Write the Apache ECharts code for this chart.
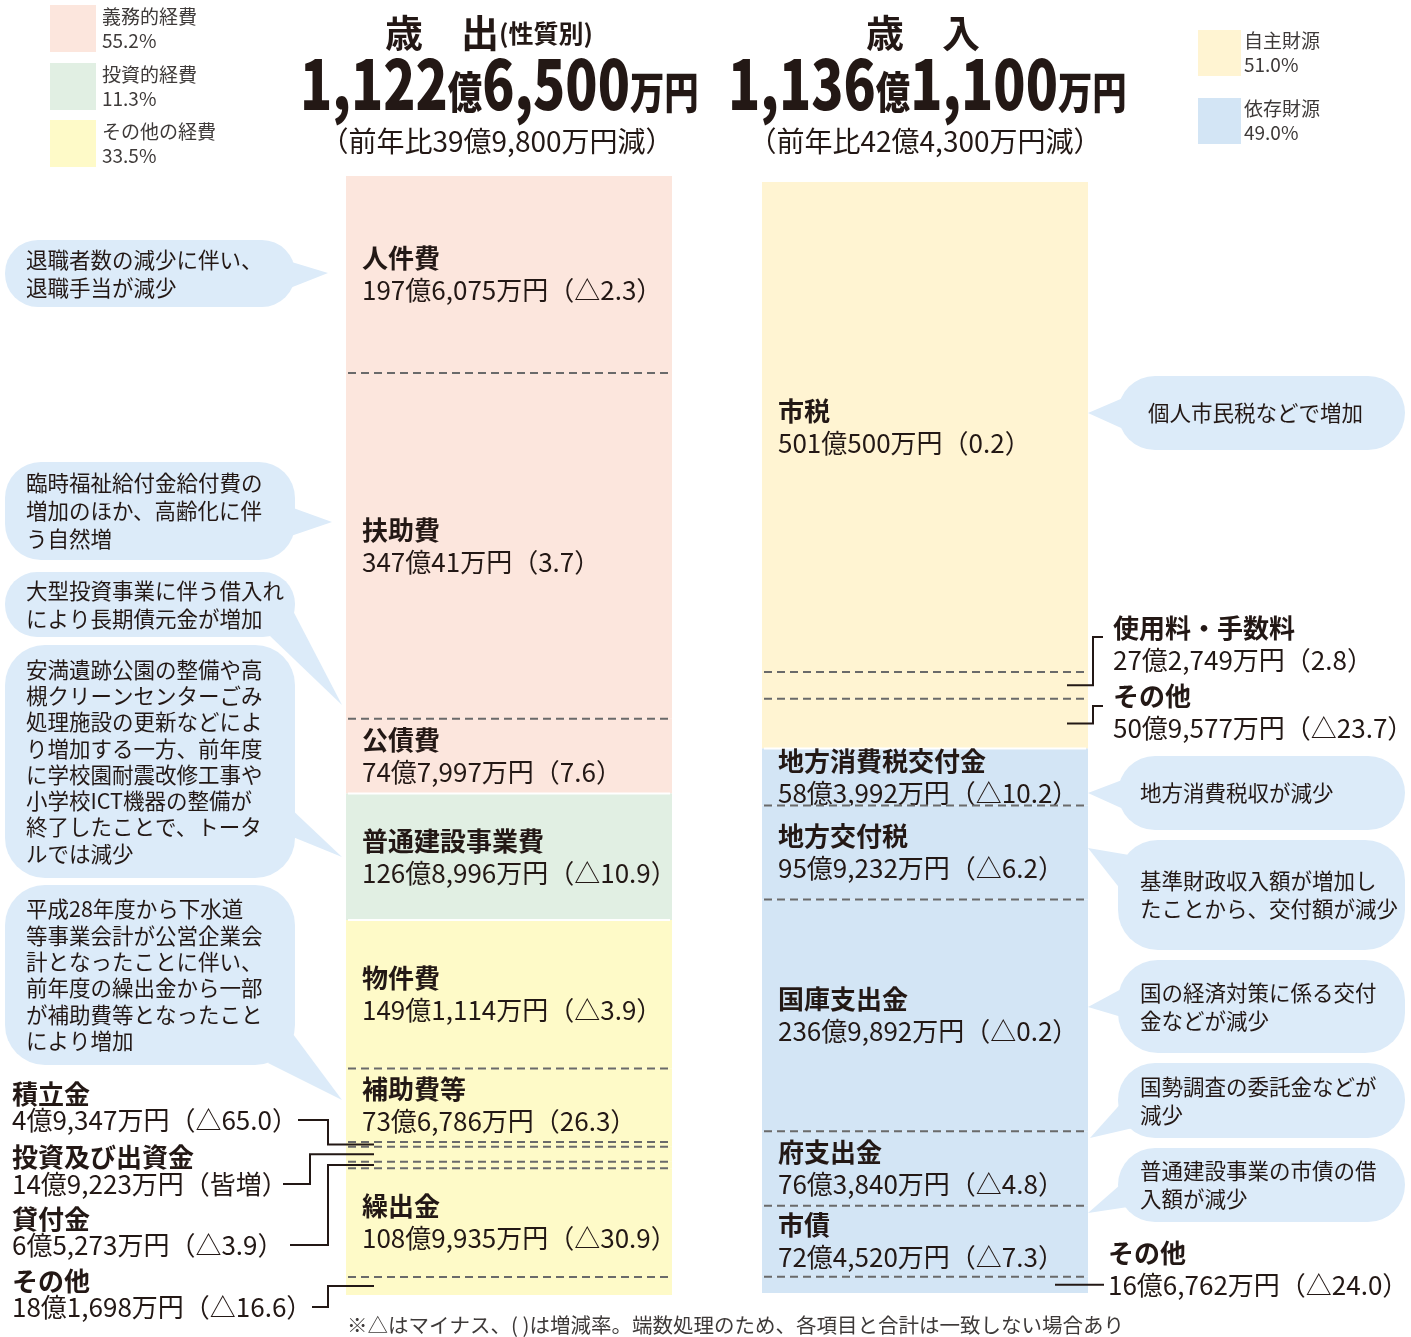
<!DOCTYPE html>
<html lang="ja">
<head>
<meta charset="utf-8">
<title>歳出・歳入</title>
<script src="https://cdn.jsdelivr.net/npm/echarts@6/dist/echarts.min.js"></script>
<style>
  html, body { margin: 0; padding: 0; background: #fff; }
  #main { width: 1411px; height: 1337px; }
</style>
</head>
<body>
<div id="main"></div>
<script>
// 歳出（性質別）単位：億円
const expNames = ['人件費', '扶助費', '公債費', '普通建設事業費', '物件費', '補助費等', '積立金', '投資及び出資金', '貸付金', '繰出金', 'その他'];
const expValues = [197.6075, 347.0041, 74.7997, 126.8996, 149.1114, 73.6786, 4.9347, 14.9223, 6.5273, 108.9935, 18.1698];
const expAmounts = ['197億6,075万円', '347億41万円', '74億7,997万円', '126億8,996万円', '149億1,114万円', '73億6,786万円', '4億9,347万円', '14億9,223万円', '6億5,273万円', '108億9,935万円', '18億1,698万円'];
const expRates = ['△2.3', '3.7', '7.6', '△10.9', '△3.9', '26.3', '△65.0', '皆増', '△3.9', '△30.9', '△16.6'];
const expGroups = [0, 0, 0, 1, 2, 2, 2, 2, 2, 2, 2];
const expGroupNames = ['義務的経費', '投資的経費', 'その他の経費'];
const expGroupShares = ['55.2%', '11.3%', '33.5%'];

// 歳入 単位：億円
const revNames = ['市税', '使用料・手数料', 'その他', '地方消費税交付金', '地方交付税', '国庫支出金', '府支出金', '市債', 'その他'];
const revValues = [501.05, 27.2749, 50.9577, 58.3992, 95.9232, 236.9892, 76.384, 72.452, 16.6762];
const revAmounts = ['501億500万円', '27億2,749万円', '50億9,577万円', '58億3,992万円', '95億9,232万円', '236億9,892万円', '76億3,840万円', '72億4,520万円', '16億6,762万円'];
const revRates = ['0.2', '2.8', '△23.7', '△10.2', '△6.2', '△0.2', '△4.8', '△7.3', '△24.0'];
const revGroups = [0, 0, 0, 1, 1, 1, 1, 1, 1];
const revGroupNames = ['自主財源', '依存財源'];
const revGroupShares = ['51.0%', '49.0%'];

const expTitle = { total: ['1,122', '億', '6,500', '万円'], diff: '（前年比39億9,800万円減）' };
const revTitle = { total: ['1,136', '億', '1,100', '万円'], diff: '（前年比42億4,300万円減）' };

const notes = [
  '退職者数の減少に伴い、\n退職手当が減少',
  '臨時福祉給付金給付費の\n増加のほか、高齢化に伴\nう自然増',
  '大型投資事業に伴う借入れ\nにより長期債元金が増加',
  '安満遺跡公園の整備や高\n槻クリーンセンターごみ\n処理施設の更新などによ\nり増加する一方、前年度\nに学校園耐震改修工事や\n小学校ICT機器の整備が\n終了したことで、トータ\nルでは減少',
  '平成28年度から下水道\n等事業会計が公営企業会\n計となったことに伴い、\n前年度の繰出金から一部\nが補助費等となったこと\nにより増加',
  '個人市民税などで増加',
  '地方消費税収が減少',
  '基準財政収入額が増加し\nたことから、交付額が減少',
  '国の経済対策に係る交付\n金などが減少',
  '国勢調査の委託金などが\n減少',
  '普通建設事業の市債の借\n入額が減少'
];
const footnote = '※△はマイナス、( )は増減率。端数処理のため、各項目と合計は一致しない場合あり';

const FONT = '"Noto Sans CJK JP", "Noto Sans", sans-serif';
const INK = '#231815';
const expColors = ['#fce6dd', '#e1efe3', '#fefac8'];
const revColors = ['#fff4d2', '#d3e5f5'];
const bubbleColor = '#dcebf9';

// 棒の中に名前を書く項目
const expInside = [1, 1, 1, 1, 1, 1, 0, 0, 0, 1, 0];
const revInside = [1, 0, 0, 1, 1, 1, 1, 1, 0];

function cumulate(values) {
  let acc = 0;
  return values.map(v => { const s = acc; acc += v; return [0.5, s, acc]; });
}
function sum(a) { return a.reduce((p, c) => p + c, 0); }

function segmentRenderer(groups, colors, inside, names, amounts, rates) {
  return function (params, api) {
    const i = params.dataIndex;
    const a = api.coord([0, api.value(1)]);
    const b = api.coord([1, api.value(2)]);
    const kids = [{
      type: 'rect',
      shape: { x: a[0], y: a[1], width: b[0] - a[0], height: b[1] - a[1] },
      style: { fill: colors[groups[i]] }
    }];
    if (i > 0) {
      const same = groups[i] === groups[i - 1];
      kids.push({
        type: 'line',
        shape: { x1: a[0] + 2, y1: a[1], x2: b[0] - 2, y2: a[1] },
        style: same ? { stroke: '#6a6a6a', lineWidth: 2, lineDash: [8, 5] } : { stroke: '#fff', lineWidth: 2 }
      });
    }
    if (inside[i]) {
      kids.push({
        type: 'text',
        x: a[0] + 16,
        y: (a[1] + b[1]) / 2,
        style: {
          text: '{n|' + names[i] + '}\n{v|' + amounts[i] + '（' + rates[i] + '）}',
          verticalAlign: 'middle',
          align: 'left',
          rich: {
            n: { fontFamily: FONT, fontSize: 26, fontWeight: 'bold', fill: INK, lineHeight: 32 },
            v: { fontFamily: FONT, fontSize: 26, fill: INK, lineHeight: 32 }
          }
        }
      });
    }
    return { type: 'group', children: kids };
  };
}

const chart = echarts.init(document.getElementById('main'));
chart.setOption({
  animation: false,
  backgroundColor: '#fff',
  grid: [
    { left: 346, top: 176, width: 326, height: 1119 },
    { left: 762, top: 182, width: 326, height: 1111 }
  ],
  xAxis: [
    { gridIndex: 0, type: 'value', min: 0, max: 1, show: false },
    { gridIndex: 1, type: 'value', min: 0, max: 1, show: false }
  ],
  yAxis: [
    { gridIndex: 0, type: 'value', inverse: true, min: 0, max: sum(expValues), show: false },
    { gridIndex: 1, type: 'value', inverse: true, min: 0, max: sum(revValues), show: false }
  ],
  series: [
    {
      type: 'custom', name: '歳出', xAxisIndex: 0, yAxisIndex: 0,
      encode: { x: 0, y: [1, 2] },
      data: cumulate(expValues),
      renderItem: segmentRenderer(expGroups, expColors, expInside, expNames, expAmounts, expRates)
    },
    {
      type: 'custom', name: '歳入', xAxisIndex: 1, yAxisIndex: 1,
      encode: { x: 0, y: [1, 2] },
      data: cumulate(revValues),
      renderItem: segmentRenderer(revGroups, revColors, revInside, revNames, revAmounts, revRates)
    }
  ]
});

// 区分の中央のy座標（軸のスケールから）
function midY(gridIndex, values, i) {
  const s = sum(values.slice(0, i));
  return chart.convertToPixel({ gridIndex: gridIndex }, [0, s + values[i] / 2])[1];
}

const g = [];

function txt(x, y, text, size, opts) {
  g.push(Object.assign({
    type: 'text', x: x, y: y, z: 10,
    style: Object.assign({
      text: text, fontFamily: FONT, fontSize: size, fill: INK,
      verticalAlign: 'middle', align: 'left'
    }, (opts && opts.style) || {})
  }, (opts && opts.el) || {}));
}

function bubble(box, tail, text, textX, lineH) {
  g.push({ type: 'polygon', shape: { points: tail }, style: { fill: bubbleColor } });
  g.push({ type: 'rect', shape: { x: box[0], y: box[1], width: box[2], height: box[3], r: box[4] }, style: { fill: bubbleColor } });
  txt(textX, box[1] + box[3] / 2, text, 21.5, { style: { lineHeight: lineH, fill: INK } });
}

function leader(points) {
  g.push({ type: 'polyline', z: 10, shape: { points: points }, style: { stroke: INK, lineWidth: 2, fill: null } });
}

function itemLabel(x, nameY, valueY, name, amount, rate, align) {
  txt(x, nameY, name, 26, { style: { fontWeight: 'bold', align: align || 'left' } });
  txt(x, valueY, amount + '（' + rate + '）', 26, { style: { align: align || 'left' } });
}

// 凡例
expGroupNames.forEach((n, k) => {
  const top = [5, 63, 120][k];
  g.push({ type: 'rect', shape: { x: 50, y: top, width: 46, height: 47 }, style: { fill: expColors[k] } });
  txt(102, top + 24, n + '\n' + expGroupShares[k], 19, { style: { lineHeight: 24, fill: '#3e3a39' } });
});
revGroupNames.forEach((n, k) => {
  const top = [30, 98][k];
  g.push({ type: 'rect', shape: { x: 1198, y: top, width: 43, height: 46 }, style: { fill: revColors[k] } });
  txt(1244, top + 23, n + '\n' + revGroupShares[k], 19, { style: { lineHeight: 24, fill: '#3e3a39' } });
});

// 見出し
function heading(x, word, sub, bigX, total, diffX, diff) {
  g.push({
    type: 'text', x: x, y: 33,
    style: {
      text: '{t|' + word + '}' + (sub ? '{s|' + sub + '}' : ''),
      verticalAlign: 'middle',
      rich: {
        t: { fontFamily: FONT, fontSize: 38, fontWeight: 'bold', fill: INK },
        s: { fontFamily: FONT, fontSize: 25, fontWeight: 'bold', fill: INK }
      }
    }
  });
  g.push({
    type: 'text', x: bigX, y: 84, scaleX: 0.78, originX: 0, originY: 0,
    style: {
      text: '{n|' + total[0] + '}{u|' + total[1] + '}{n|' + total[2] + '}{u|' + total[3] + '}',
      verticalAlign: 'middle',
      rich: {
        n: { fontFamily: FONT, fontSize: 68, fontWeight: 900, fill: INK, verticalAlign: 'bottom' },
        u: { fontFamily: FONT, fontSize: 44, fontWeight: 900, fill: INK, verticalAlign: 'bottom', padding: [0, 0, 4, 0] }
      }
    }
  });
  txt(diffX, 141, diff, 28, { style: { align: 'center' } });
}
heading(385, '歳　出', '(性質別)', 300, expTitle.total, 497, expTitle.diff);
heading(866, '歳　入', '', 728, revTitle.total, 925, revTitle.diff);

// 吹き出し（左）
bubble([5, 240, 290, 67, 33], [[285, 260], [328, 273], [285, 290]], notes[0], 26, 28);
bubble([5, 462, 290, 98, 36], [[285, 505], [332, 522], [285, 538]], notes[1], 26, 28);
bubble([5, 572, 290, 65, 32], [[290, 605], [342, 705], [270, 636]], notes[2], 26, 28);
bubble([5, 645, 290, 233, 40], [[288, 806], [342, 857], [288, 835]], notes[3], 26, 26.3);
bubble([5, 885, 290, 180, 40], [[290, 1030], [342, 1100], [268, 1063]], notes[4], 26, 26.4);
// 吹き出し（右）
bubble([1118, 376, 287, 74, 37], [[1130, 395], [1088, 413], [1130, 432]], notes[5], 1148, 28);
bubble([1118, 756, 287, 74, 37], [[1130, 777], [1088, 793], [1130, 812]], notes[6], 1140, 28);
bubble([1118, 840, 287, 110, 40], [[1135, 856], [1088, 848], [1125, 895]], notes[7], 1140, 28);
bubble([1118, 960, 287, 93, 40], [[1125, 987], [1088, 1007], [1125, 1018]], notes[8], 1140, 28);
bubble([1118, 1063, 287, 75, 37], [[1133, 1090], [1090, 1138], [1133, 1128]], notes[9], 1140, 28);
bubble([1118, 1148, 287, 74, 37], [[1128, 1178], [1088, 1213], [1128, 1207]], notes[10], 1140, 28);

// 棒の外に書く項目（歳出・左側）
[[6, 1094, 1120, 298, 328], [7, 1157, 1184, 283, 310], [8, 1219, 1245, 290, 328], [10, 1281, 1307, 312, 328]].forEach(o => {
  const i = o[0];
  itemLabel(12, o[1], o[2], expNames[i], expAmounts[i], expRates[i]);
  const m = midY(0, expValues, i);
  leader([[o[3], o[2]], [o[4], o[2]], [o[4], m], [374, m]]);
});

// 棒の外に書く項目（歳入・右側）
[[1, 628, 660, 637], [2, 696, 728, 706]].forEach(o => {
  const i = o[0];
  itemLabel(1113, o[1], o[2], revNames[i], revAmounts[i], revRates[i]);
  const m = midY(1, revValues, i);
  leader([[1067, m], [1093, m], [1093, o[3]], [1103, o[3]]]);
});
(function () {
  const i = 8;
  const m = midY(1, revValues, i);
  itemLabel(1108, m - 32, m, revNames[i], revAmounts[i], revRates[i]);
  leader([[1055, m], [1104, m]]);
})();

txt(347, 1325, footnote, 20.5, { style: { fill: '#3e3a39' } });

chart.setOption({ graphic: g });
</script>
</body>
</html>
